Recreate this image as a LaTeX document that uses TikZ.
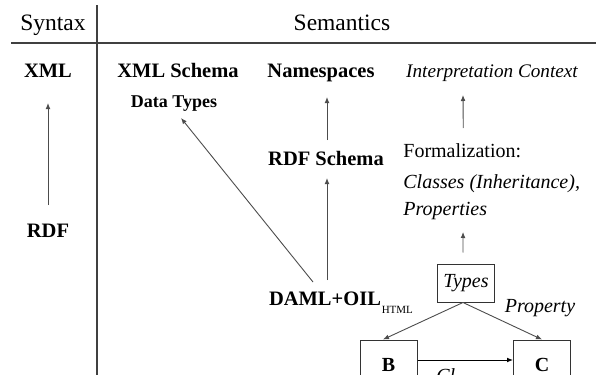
\documentclass[tikz,border=0pt]{standalone}
\usepackage{fontspec}
\setmainfont{Liberation Serif}
\usetikzlibrary{arrows.meta}
\usetikzlibrary{positioning}

\begin{document}
\begin{tikzpicture}[x=0.5pt,y=-0.5pt,>={Latex[length=3pt,width=2.4pt]},
  lbl/.style={inner sep=0pt,anchor=base},
  hd/.style={lbl,font=\fontsize{11.75}{14}\selectfont},
  bl/.style={lbl,font=\fontsize{10.25}{12}\selectfont\bfseries},
  it/.style={lbl,font=\fontsize{10}{12}\selectfont\itshape},
  rm/.style={lbl,font=\fontsize{10}{12}\selectfont},
  box/.style={draw=black!80,line width=0.5pt,inner sep=0pt,minimum width=28.5pt},
  arr/.style={->,draw=black!70,line width=0.45pt}]
%Frame of the page
  \useasboundingbox (0,0) rectangle (596,375);
  \clip (0,0) rectangle (596,375);

    \draw[black!75,line width=0.55pt] (11,43) -- (596,43);
    \draw[black!75,line width=0.55pt] (97,5) -- (97,375);

    \node[hd] (syn) at (53,30.5) {Syntax};
    \node[hd] (sem) at (342,30.5) {Semantics};

    \node[bl] (xml) at (48,77) {XML};
    \node[bl] (rdf) at (48,237) {RDF};
    \node[bl] (xsd) at (178,77) {XML Schema};
    \node[lbl,font=\fontsize{9}{11}\selectfont\bfseries] (dtypes) at (174,107) {Data Types};
    \node[bl] (ns) at (321,77) {Namespaces};
    \node[lbl,font=\fontsize{9.6}{12}\selectfont\itshape] (ctx) at (492,77) {Interpretation Context};
    \node[bl] (rdfs) at (326,165) {RDF Schema};
    \node[bl] (daml) at (325,305) {DAML+OIL};
    \node[lbl,anchor=base west,font=\fontsize{5.5}{7}\selectfont] (html) at ([yshift=-4.5pt]daml.base east) {HTML};

    \node[rm,anchor=base west] (form) at (403,157) {Formalization:};
    \node[it,anchor=base west] (cls) at (403,188) {Classes (Inheritance),};
    \node[it,anchor=base west] (props) at (403,215) {Properties};

    \node[box,minimum height=19pt,font=\fontsize{10}{12}\selectfont\itshape] (types) at (466,283) {Types};
    \node[it] (prop) at (540,313) {Property};
    \node[box,minimum height=25pt,font=\fontsize{10}{12}\selectfont\bfseries] (b) at (388.5,365) {B};
    \node[box,minimum height=25pt,font=\fontsize{10}{12}\selectfont\bfseries] (c) at (542,365) {C};
    \node[it,anchor=base west] (cl) at (436,382.5) {Cl};

    \draw[arr] ([yshift=16pt]rdf.base) -- ([yshift=-13pt]xml.base);
    \draw[arr] ([xshift=-6pt,yshift=11.5pt]daml.base) -- ([xshift=3.5pt,yshift=-5.5pt]dtypes.base);
    \draw[arr] ([xshift=0.5pt,yshift=12.5pt]rdfs.base) -- ([xshift=3pt,yshift=-10pt]ns.base);
    \draw[arr] ([xshift=1pt,yshift=12.5pt]daml.base) -- ([xshift=0.5pt,yshift=-6.5pt]rdfs.base);
    \draw[arr] ([xshift=0.5pt,yshift=14.5pt]form.base) -- ([xshift=-14.5pt,yshift=-9pt]ctx.base);
    \draw[arr] ([xshift=-1.5pt,yshift=5.5pt]types.north) -- ([xshift=8.9pt,yshift=-8.5pt]props.base);
    \draw[arr] ([xshift=-1.5pt]types.south) -- ([xshift=-2.75pt]b.north);
    \draw[arr] ([xshift=-1.5pt]types.south) -- (c.north);
    \draw[arr,draw=black] ([yshift=2.5pt]b.east) -- ([yshift=2.5pt]c.west);
\end{tikzpicture}
\end{document}
